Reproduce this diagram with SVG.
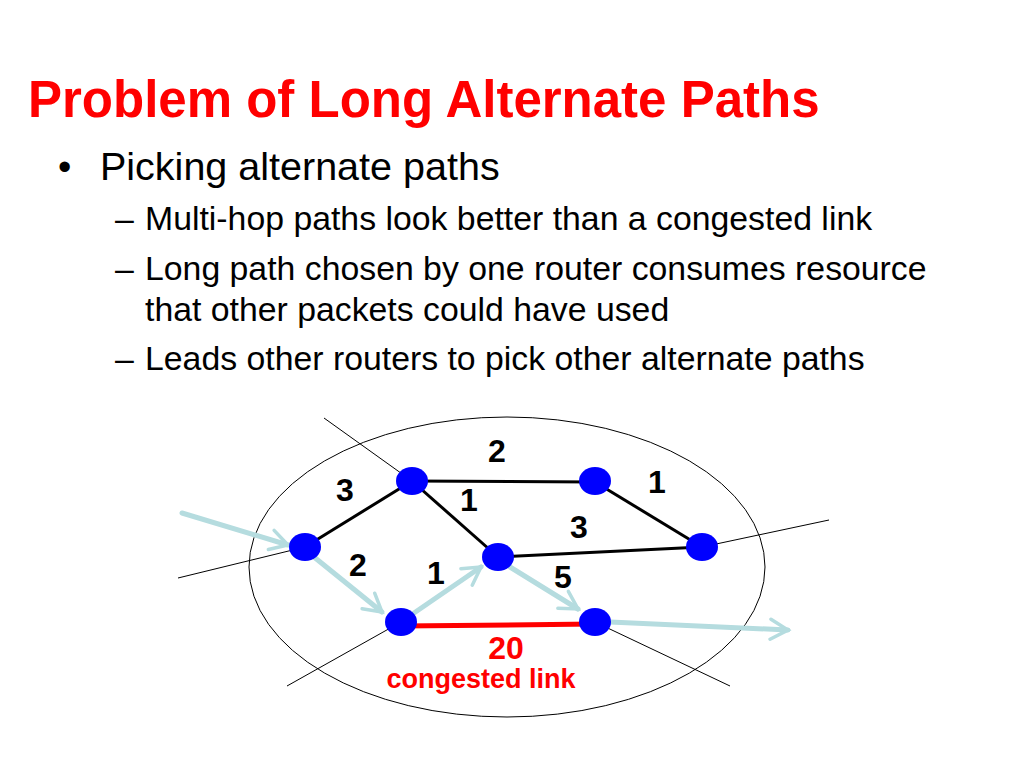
<svg xmlns="http://www.w3.org/2000/svg" width="1024" height="768" viewBox="0 0 1024 768">
<style>
.t{font-family:"Liberation Sans",Arial,sans-serif}
.n{fill:#0000ff}
.thin{stroke:#000;stroke-width:1;fill:none}
.lnk{stroke:#000;stroke-width:3}
.fl{stroke:#b5dcdf;stroke-width:5;fill:none;stroke-linecap:round}
.w{font-family:"Liberation Sans",Arial,sans-serif;font-weight:bold;font-size:32px;text-anchor:middle}
</style>
<defs>
<marker id="ah" viewBox="0 0 10 10" refX="8" refY="5" markerWidth="5" markerHeight="5" orient="auto" markerUnits="strokeWidth">
<path d="M1,1 L8,5 L1,9" fill="none" stroke="#b5dcdf" stroke-width="1.4" stroke-linecap="round"/>
</marker>
</defs>
<rect width="1024" height="768" fill="#fff"/>
<text class="t" x="28" y="117" font-size="51" font-weight="bold" fill="#ff0000">Problem of Long Alternate Paths</text>
<text class="t" x="58" y="180" font-size="38">•</text>
<text class="t" x="100" y="180" font-size="39.5">Picking alternate paths</text>
<g class="t" font-size="33.8">
<text x="115" y="230">–</text><text x="145" y="230">Multi-hop paths look better than a congested link</text>
<text x="115" y="280">–</text><text x="145" y="280">Long path chosen by one router consumes resource</text>
<text x="145" y="321">that other packets could have used</text>
<text x="115" y="370">–</text><text x="145" y="370">Leads other routers to pick other alternate paths</text>
</g>
<g id="connectors">
<ellipse class="thin" cx="507" cy="567" rx="258" ry="150"/>
<line class="thin" x1="324" y1="418" x2="412" y2="481"/>
<line class="thin" x1="178" y1="578" x2="305" y2="547"/>
<line class="thin" x1="829" y1="520" x2="702" y2="547"/>
<line class="thin" x1="287" y1="686" x2="401" y2="622"/>
<line class="thin" x1="730" y1="686" x2="595" y2="622"/>
<line class="lnk" x1="305" y1="547" x2="412" y2="481"/>
<line class="lnk" x1="412" y1="481" x2="595" y2="482"/>
<line class="lnk" x1="412" y1="481" x2="498" y2="557"/>
<line class="lnk" x1="595" y1="482" x2="702" y2="547"/>
<line class="lnk" x1="498" y1="557" x2="702" y2="547"/>
<line x1="401" y1="626" x2="595" y2="624" stroke="#ff0000" stroke-width="5"/>
<line class="fl" x1="182" y1="513" x2="288" y2="545" marker-end="url(#ah)"/>
<line class="fl" x1="314" y1="557" x2="382" y2="612" marker-end="url(#ah)"/>
<line class="fl" x1="414" y1="613" x2="481" y2="567" marker-end="url(#ah)"/>
<line class="fl" x1="510" y1="567" x2="578" y2="609" marker-end="url(#ah)"/>
<line class="fl" x1="610" y1="622" x2="788" y2="630" marker-end="url(#ah)"/>
</g>
<g id="nA"><ellipse class="n" cx="305" cy="547" rx="16" ry="14"/></g>
<g id="nB"><ellipse class="n" cx="412" cy="481" rx="16" ry="14"/></g>
<g id="nC"><ellipse class="n" cx="595" cy="481" rx="16" ry="14"/></g>
<g id="nD"><ellipse class="n" cx="702" cy="547" rx="16" ry="14"/></g>
<g id="nE"><ellipse class="n" cx="498" cy="557" rx="16" ry="14"/></g>
<g id="nF"><ellipse class="n" cx="401" cy="622" rx="16" ry="14"/></g>
<g id="nG"><ellipse class="n" cx="595" cy="622" rx="16" ry="14"/></g>
<g id="labels">
<text class="w" x="497" y="462">2</text>
<text class="w" x="345" y="501">3</text>
<text class="w" x="469" y="511">1</text>
<text class="w" x="657" y="493">1</text>
<text class="w" x="579" y="538">3</text>
<text class="w" x="358" y="576">2</text>
<text class="w" x="436" y="584">1</text>
<text class="w" x="563" y="588">5</text>
<text class="w" x="506" y="659" fill="#ff0000" font-size="30">20</text>
<text class="t" x="481" y="688" font-size="27" font-weight="bold" fill="#ff0000" text-anchor="middle">congested link</text>
</g>
</svg>
